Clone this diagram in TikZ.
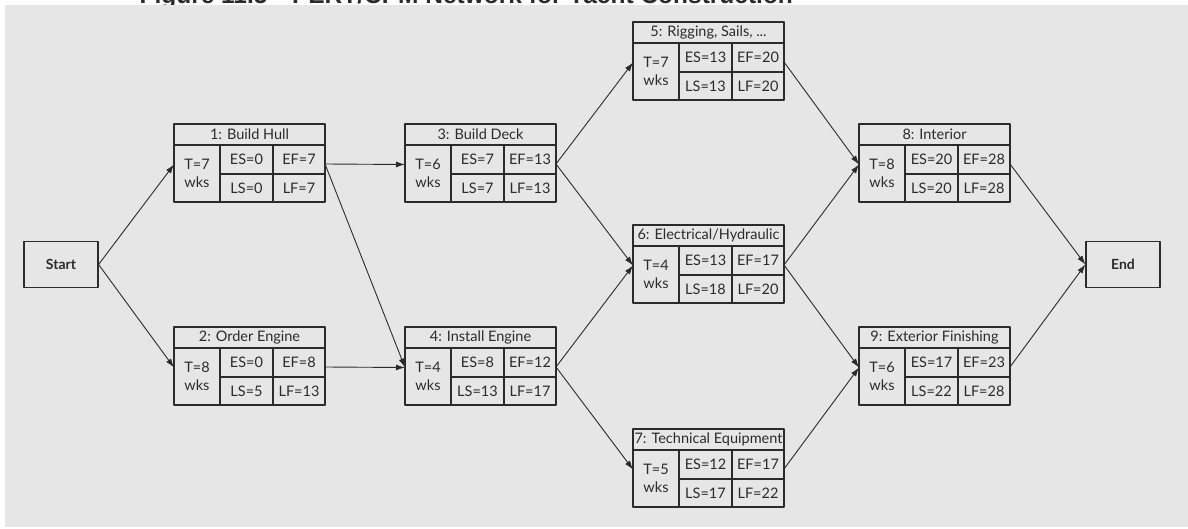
\documentclass[tikz,border=0pt]{standalone}
\usepackage{fontspec}
\setmainfont{Lato}
\newfontfamily\titlefont{Liberation Sans}
\usetikzlibrary{arrows.meta,calc}

\definecolor{bggray}{HTML}{E6E6E6}
\definecolor{ink}{HTML}{2B2B2B}

\tikzset{
  cell/.style={draw=ink, line width=1.2pt, fill=bggray, inner sep=0pt, outer sep=0pt,
    anchor=north west, text=ink, font=\fontsize{14.5}{17.5}\selectfont},
  endbox/.style={draw=ink, line width=1.2pt, fill=bggray, minimum width=74pt, minimum height=46pt,
    inner sep=0pt, text=ink, font=\fontsize{14}{17}\selectfont\bfseries},
  link/.style={draw=ink, line width=0.9pt, -{Latex[length=9pt,width=6pt]}}
}

\newcommand{\actbox}[8]{%
  \node[cell, minimum width=151pt, minimum height=21pt] (#1-h) at #2 {#3};
  \node[cell, minimum width=46pt, minimum height=57pt, align=center] (#1-t) at (#1-h.south west) {T=#4\\wks};
  \node[cell, minimum width=53pt, minimum height=29pt] (#1-es) at (#1-t.north east) {ES=#5};
  \node[cell, minimum width=52pt, minimum height=29pt] (#1-ef) at (#1-es.north east) {EF=#6};
  \node[cell, minimum width=53pt, minimum height=28pt] (#1-ls) at (#1-es.south west) {LS=#7};
  \node[cell, minimum width=52pt, minimum height=28pt] (#1-lf) at (#1-ef.south west) {LF=#8};
}

\begin{document}
\begin{tikzpicture}[x=1pt, y=-1pt, >=Latex, line cap=round, line join=round]
            \useasboundingbox (0,0) rectangle (1188,529);
            \clip (0,0) rectangle (1188,529);

            \node[anchor=base west, text=ink, font=\titlefont\bfseries\fontsize{24.5}{28}\selectfont] (title) at (136,4)
                {Figure 11.5\quad PERT/CPM Network for Yacht Construction};
            \fill[bggray] (5,5) rectangle (1188,527);

            \node[endbox] (start) at (61,264.5) {Start};
            \node[endbox] (end) at (1123,264.5) {End};

            \actbox{a1}{(174,124)}{1: Build Hull}{7}{0}{7}{0}{7}
            \actbox{a2}{(174,327)}{2: Order Engine}{8}{0}{8}{5}{13}
            \actbox{a3}{(405,124)}{3: Build Deck}{6}{7}{13}{7}{13}
            \actbox{a4}{(405,327)}{4: Install Engine}{4}{8}{12}{13}{17}
            \actbox{a5}{(633,22)}{5: Rigging, Sails, ...}{7}{13}{20}{13}{20}
            \actbox{a6}{(633,225)}{6: Electrical/Hydraulic}{4}{13}{17}{18}{20}
            \actbox{a7}{(633,429)}{7: Technical Equipment}{5}{12}{17}{17}{22}
            \actbox{a8}{(859,124)}{8: Interior}{8}{20}{28}{20}{28}
            \actbox{a9}{(859,327)}{9: Exterior Finishing}{6}{17}{23}{22}{28}

            \draw[link] (start.east) -- ([yshift=9pt]a1-t.west);
            \draw[link] (start.east) -- ([yshift=9pt]a2-t.west);
            \draw[link] ([yshift=10pt]a1-ef.south east) -- ([yshift=9pt]a3-t.west);
            \draw[link] ([yshift=10pt]a1-ef.south east) -- ([yshift=9pt]a4-t.west);
            \draw[link] ([yshift=10pt]a2-ef.south east) -- ([yshift=9pt]a4-t.west);
            \draw[link] ([yshift=10pt]a3-ef.south east) -- ([yshift=9pt]a5-t.west);
            \draw[link] ([yshift=10pt]a3-ef.south east) -- ([yshift=9pt]a6-t.west);
            \draw[link] ([yshift=10pt]a4-ef.south east) -- ([yshift=9pt]a6-t.west);
            \draw[link] ([yshift=10pt]a4-ef.south east) -- ([yshift=9pt]a7-t.west);
            \draw[link] ([yshift=10pt]a5-ef.south east) -- ([yshift=9pt]a8-t.west);
            \draw[link] ([yshift=10pt]a6-ef.south east) -- ([yshift=9pt]a8-t.west);
            \draw[link] ([yshift=10pt]a6-ef.south east) -- ([yshift=9pt]a9-t.west);
            \draw[link] ([yshift=10pt]a7-ef.south east) -- ([yshift=9pt]a9-t.west);
            \draw[link] ([yshift=10pt]a8-ef.south east) -- (end.west);
            \draw[link] ([yshift=10pt]a9-ef.south east) -- (end.west);

        \end{tikzpicture}
\end{document}
